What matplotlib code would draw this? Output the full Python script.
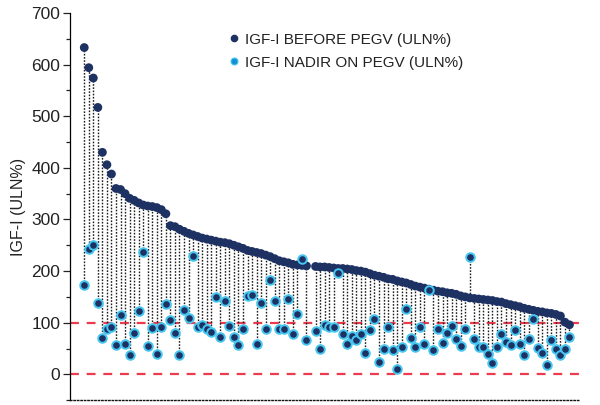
import numpy as np
import matplotlib
matplotlib.use("Agg")
import matplotlib.pyplot as plt
from matplotlib.lines import Line2D

plt.rcParams['font.family'] = ['Liberation Sans Narrow', 'Liberation Sans', 'DejaVu Sans']

# IGF-I per patient, sorted by pre-treatment level (ULN%); NaN = no value for that slot
igf_before = [633, 594, 574, 517, 430, 406, 388, 360, 358, 350,
              341, 337, 332, 328, 326, 325, 323, 319, 311, 288,
              286, 281, 277, 273, 270, 267, 264, 262, 260, 258,
              256, 255, 253, 250, 247, 244, 240, 238, 236, 234,
              231, 228, 224, 220, 218, 216, 213, 212, 211, 210,
              np.nan, 209, 208, 208, 207, 206, 205, 205, 204, 203,
              201, 200, 198, 195, 192, 190, 188, 185, 184, 181,
              179, 177, 174, 171, 169, 167, 165, 163, 161, 160,
              158, 157, 155, 152, 150, 148, 147, 146, 145, 144,
              143, 141, 140, 137, 135, 133, 131, 128, 126, 124,
              122, 121, 119, 118, 116, 113, 101, 96]

igf_nadir = [174, 243, 251, 138, 71, 88, 92, 56, 114, 58,
             38, 81, 123, 237, 55, 89, 40, 91, 137, 106,
             81, 38, 124, 109, 229, 92, 95, 87, 82, 149,
             72, 143, 94, 72, 56, 88, 152, 154, 59, 139,
             87, 183, 143, 88, 87, 145, 78, 117, 223, 67,
             np.nan, 83, 50, 96, 92, 92, 196, 79, 58, 74,
             66, 78, 42, 85, 108, 23, 50, 92, 47, 10,
             53, 127, 70, 53, 92, 58, 163, 47, 87, 61,
             81, 94, 69, 55, 88, 227, 68, 53, 53, 39,
             22, 53, 78, 62, 56, 85, 59, 37, 68, 108,
             51, 42, 19, 66, 50, 37, 50, 72]

reference_levels = [100, 0]
y_ticks = [0, 100, 200, 300, 400, 500, 600, 700]

navy = '#1d3163'
cyan = '#45c6f0'
red = '#ec3b4e'

before = np.array(igf_before, dtype=float)
nadir = np.array(igf_nadir, dtype=float)
idx = np.arange(len(before))

fig = plt.figure(figsize=(6.0, 4.05), dpi=100)
ax = fig.add_axes([0.117, 0.012, 0.848, 0.956])

for lvl in reference_levels:
    ax.axhline(lvl, color=red, lw=1.6, ls=(0, (4, 3.5)), zorder=1)

ok = ~np.isnan(before) & ~np.isnan(nadir)
ax.vlines(idx[ok], nadir[ok], before[ok], colors='#1e1e1e', lw=1.0,
          linestyles=(0, (1.2, 1.1)), zorder=2)

ax.scatter(idx, before, s=40, color=navy, edgecolors='none', zorder=3)
ax.scatter(idx, nadir, s=38, color=navy, edgecolors=cyan, linewidths=1.4, zorder=4)

ax.set_xlim(-3.1, 109.1)
ax.set_ylim(-50, 700)
ax.set_yticks(y_ticks)
ax.set_yticks(np.arange(-50, 701, 50), minor=True)
ax.tick_params(axis='y', which='major', length=5, width=0.9, labelsize=12.5,
               colors='#222222', pad=2)
ax.tick_params(axis='y', which='minor', length=3, width=0.9, colors='#222222')
ax.set_xticks([])

for side in ('top', 'right'):
    ax.spines[side].set_visible(False)
ax.spines['left'].set_linewidth(0.9)
ax.spines['bottom'].set_linestyle((0, (1, 1.5)))
ax.spines['bottom'].set_linewidth(1.0)
ax.spines['bottom'].set_color('#111111')

ax.set_ylabel('IGF-I (ULN%)', fontsize=11.5, color='#222222', labelpad=4)

handles = [
    Line2D([], [], ls='none', marker='o', ms=5.5, color=navy, mec='none'),
    Line2D([], [], ls='none', marker='o', ms=5, color='#1590d0', mec=cyan, mew=0.8),
]
ax.legend(handles, ['IGF-I BEFORE PEGV (ULN%)', 'IGF-I NADIR ON PEGV (ULN%)'],
          loc='upper left', bbox_to_anchor=(0.28, 0.985), frameon=False,
          fontsize=11, handletextpad=0.2, labelspacing=0.6, handlelength=1.0,
          labelcolor='#222222')

fig.savefig('out.png', dpi=100)
